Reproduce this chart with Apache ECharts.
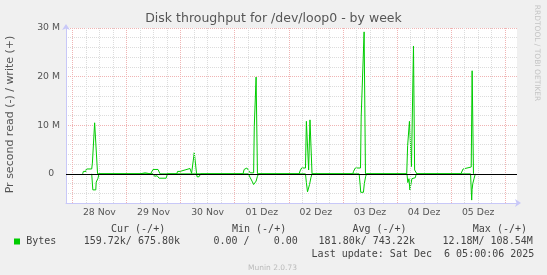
<!DOCTYPE html>
<html><head><meta charset="utf-8">
<script src="https://cdn.jsdelivr.net/npm/echarts@6/dist/echarts.min.js"></script>
<style>html,body{margin:0;padding:0;background:#f0f0f0}#c{width:547px;height:275px}</style>
</head><body><div id="c"></div>
<script>
// ---- chart content ----
const titleText = 'Disk throughput for /dev/loop0 - by week';
const yAxisTitle = 'Pr second read (-) / write (+)';
const sideText = 'RRDTOOL / TOBI OETIKER';
const footerText = 'Munin 2.0.73';
// x = hours since 28 Nov 00:00
const xRange = [-2.8, 197.2];
const dayLabels = ['28 Nov','29 Nov','30 Nov','01 Dez','02 Dez','03 Dez','04 Dez','05 Dez'];
const dayLabelHours = [12, 36, 60, 84, 108, 132, 156, 180];
// y in M (bytes/s)
const yRange = [-6, 30];
const yStep = 2;
const yMajor = 10;
// write (+), [hour, M]
const writePoints = [
  [4.6,0],[4.9,0.5],[6.1,0.5],[6.2,1.0],[8.6,1.0],[8.9,2.2],[9.3,2.2],[9.9,10.5],[10.5,10.4],[11.2,0],
  [30.0,0],[30.5,0.2],[32.3,0.2],[32.7,0],[34.7,0],[35.8,0.9],[38.0,0.9],[38.9,0],
  [46.3,0],[46.7,0.5],[47.8,0.5],[48.1,0.9],[50.0,0.8],[50.4,1.1],[52.2,1.1],[52.9,0.1],[53.7,0.1],[54.1,4.4],[54.6,4.4],[55.1,0],
  [75.7,0],[76.2,0.9],[77.4,1.2],[78.2,1.2],[78.9,0.2],[80.4,0.2],[80.7,9.8],[81.0,9.8],[81.5,19.9],[81.8,19.9],[82.1,0],
  [100.6,0],[101.0,0.6],[101.7,1.2],[103.4,1.2],[103.8,10.8],[104.4,10.8],[104.8,0.8],[105.4,11.1],[105.8,11.1],[106.3,0],
  [124.4,0],[124.7,0.5],[125.5,1.2],[127.8,1.2],[128.1,11.7],[128.9,11.7],[129.4,29.2],[130.0,0],
  [148.3,0],[148.7,5.8],[149.1,5.8],[149.5,10.8],[150.1,10.8],[150.4,1.5],[150.9,1.5],[151.3,26.3],[151.8,0.8],[152.2,0.8],[152.8,0],
  [172.3,0],[173.3,1.0],[173.8,1.4],[176.9,1.4],[177.3,21.2],[177.6,21.2],[177.9,0]
];
// read (-), [hour, M magnitude]
const readPoints = [
  [8.6,0],[9.1,3.3],[10.4,3.3],[10.6,1.7],[11.1,1.7],[11.4,0.9],[11.8,0],
  [35.8,0],[36.5,0.5],[37.6,0.4],[38.5,0.9],[41.6,0.9],[42.2,0],
  [55.1,0],[55.3,0.6],[56.2,0.6],[56.4,0.2],[56.9,0],
  [78.1,0],[78.9,0.8],[79.7,1.5],[80.4,2.2],[81.1,2.2],[81.5,1.5],[82.1,0.5],[82.6,0],
  [103.4,0],[103.8,1.8],[104.3,3.7],[104.8,3.7],[105.2,2.2],[105.8,0.8],[106.3,0],
  [127.2,0],[127.7,2.5],[127.9,3.8],[129.1,3.8],[129.5,2.0],[130.1,0.5],[130.5,0],
  [148.4,0],[148.8,1.8],[149.3,1.0],[149.7,3.3],[150.2,3.3],[150.6,1.0],[151.3,0.8],[152.1,0.8],[152.5,0],
  [176.6,0],[177.1,5.4],[177.3,3.2],[177.6,2.0],[178.2,0.9],[178.7,0]
];
const legendName = 'Bytes';
const legendHeaders = ['Cur (-/+)','Min (-/+)','Avg (-/+)','Max (-/+)'];
const legendValues = ['159.72k/ 675.80k','0.00 /    0.00','181.80k/ 743.22k','12.18M/ 108.54M'];
const lastUpdate = 'Last update: Sat Dec  6 05:00:06 2025';

// ---- rendering ----
const GREEN = '#00cc00';
const GRID_MINOR = '#dcdcdc';
const GRID_MAJOR = '#f0b4b4';
const MONO = "'DejaVu Sans Mono', monospace";
const SANS = "'DejaVu Sans', sans-serif";
const chart = echarts.init(document.getElementById('c'), null, {renderer: 'canvas'});

const vGrid = [];
for (let h = 0; h <= xRange[1]; h += 6) {
  vGrid.push({xAxis: h, lineStyle: {color: h % 24 === 0 ? GRID_MAJOR : GRID_MINOR, type: [1, 1], width: 1}});
}
const period = yMajor / yStep;
const splitColors = [];
for (let i = 0; i < period; i++) {
  const v = yRange[0] + i * yStep;
  splitColors.push(((v % yMajor) + yMajor) % yMajor === 0 ? GRID_MAJOR : GRID_MINOR);
}

function txt(text, x, y, opts) {
  return Object.assign({type: 'text', x: x, y: y, silent: true, z: 20,
    style: Object.assign({text: text, fill: '#444', fontFamily: MONO, fontSize: 10,
      textAlign: 'left', textVerticalAlign: 'middle'}, opts && opts.style || {})},
    opts && opts.extra || {});
}
const headerX = [111, 232, 352.4, 472.8];
const valueX = [83.7, 213.5, 318.6, 442.4];
const graphics = [];
legendHeaders.forEach((t, i) => graphics.push(txt(t, headerX[i], 229.5)));
legendValues.forEach((t, i) => graphics.push(txt(t, valueX[i], 241.5)));
graphics.push(txt(legendName, 26.2, 241.5));
graphics.push({type: 'rect', shape: {x: 14, y: 238.5, width: 6, height: 6}, style: {fill: GREEN}, z: 20});
graphics.push(txt(lastUpdate, 311.6, 254.2));
graphics.push(txt(footerText, 272.5, 268, {style: {fontFamily: SANS, fontSize: 7.5, fill: '#bbb', textAlign: 'center'}}));
graphics.push(txt(yAxisTitle, 10.5, 114.5, {style: {fontFamily: SANS, fontSize: 11, fill: '#555', textAlign: 'center'}, extra: {rotation: Math.PI / 2}}));
graphics.push(txt(sideText, 537, 53, {style: {fontFamily: SANS, fontSize: 7.5, fill: '#c4c4c4', textAlign: 'center'}, extra: {rotation: -Math.PI / 2}}));

const option = {
  backgroundColor: '#f0f0f0',
  animation: false,
  textStyle: {fontFamily: SANS},
  title: {text: titleText, left: 'center', top: 12, padding: 0,
    textStyle: {fontSize: 12.5, fontWeight: 'normal', color: '#555', fontFamily: SANS}},
  grid: {left: 66, right: 30, top: 28, bottom: 72, show: true, backgroundColor: '#ffffff', borderWidth: 0},
  xAxis: {
    type: 'value', min: xRange[0], max: xRange[1],
    axisLine: {onZero: false, lineStyle: {color: '#c8c8f8', width: 1}, symbol: ['none', 'arrow'], symbolSize: [6, 6], symbolOffset: [0, 4]},
    axisTick: {show: false},
    splitLine: {show: false},
    axisLabel: {customValues: dayLabelHours, formatter: v => {
      const i = dayLabelHours.indexOf(Math.round(v)); return i >= 0 ? dayLabels[i] : '';
    }, color: '#555', fontSize: 9.3, margin: 5, fontFamily: SANS}
  },
  yAxis: {
    type: 'value', min: yRange[0], max: yRange[1], interval: yStep,
    axisLine: {show: true, onZero: false, lineStyle: {color: '#c8c8f8', width: 1}, symbol: ['none', 'arrow'], symbolSize: [6, 6], symbolOffset: [0, 4]},
    axisTick: {show: false},
    axisLabel: {color: '#555', fontSize: 9.3, margin: 6, fontFamily: SANS, formatter: v => {
      const r = Math.round(v);
      if (r === 0) return '0  ';
      return (r > 0 && r % yMajor === 0) ? r + ' M' : '';
    }},
    splitLine: {show: true, lineStyle: {color: splitColors, type: [1, 1], width: 1}}
  },
  series: [
    {type: 'line', name: 'vgrid', data: [], z: 1, silent: true,
      markLine: {silent: true, symbol: ['none', 'none'], label: {show: false}, animation: false, data: vGrid}},
    {type: 'line', name: 'write', data: writePoints, z: 3, showSymbol: false, symbol: 'none',
      lineStyle: {color: GREEN, width: 1}, itemStyle: {color: GREEN}},
    {type: 'line', name: 'read', data: readPoints.map(p => [p[0], -p[1]]), z: 3, showSymbol: false, symbol: 'none',
      lineStyle: {color: GREEN, width: 1}, itemStyle: {color: GREEN}},
    {type: 'line', name: 'zero', data: [], z: 5, silent: true,
      markLine: {silent: true, symbol: ['none', 'none'], label: {show: false}, animation: false,
        data: [{yAxis: 0, lineStyle: {color: '#000', type: 'solid', width: 1}}]}}
  ],
  graphic: graphics
};
chart.setOption(option);
</script>
</body></html>
